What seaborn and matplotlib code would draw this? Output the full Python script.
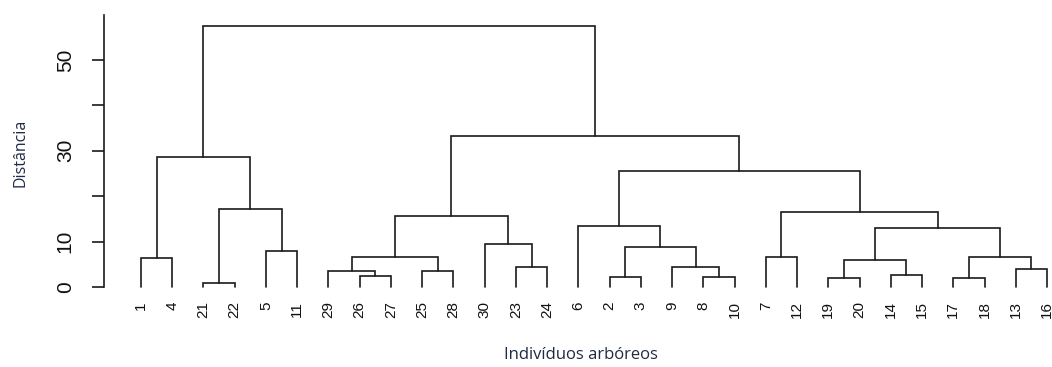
import matplotlib
matplotlib.use("Agg")
import matplotlib.pyplot as plt
import seaborn as sns

# Leaf order along the x axis (as drawn in the dendrogram)
leaves = ["1", "4", "21", "22", "5", "11", "29", "26", "27", "25", "28", "30", "23", "24",
          "6", "2", "3", "9", "8", "10", "7", "12", "19", "20", "14", "15", "17", "18", "13", "16"]

# Merges: left child, right child, fusion height (m<i> = i-th merge)
merge_left = ["21", "19", "17", "2", "8", "26", "14", "29", "25", "13", "23", "9", "m1", "1",
              "m7", "7", "m2", "5", "m3", "30", "m12", "6", "m14", "m15", "m0", "m21", "m13", "m22", "m26"]
merge_right = ["22", "20", "18", "3", "10", "27", "15", "m5", "28", "16", "24", "m4", "m6", "4",
               "m8", "12", "m9", "11", "m11", "m10", "m16", "m18", "m19", "m20", "m17", "m23", "m24", "m25", "m27"]
merge_height = [0.8, 1.9, 2.0, 2.2, 2.2, 2.5, 2.6, 3.5, 3.6, 3.9, 4.3, 4.3, 5.9, 6.3,
                6.5, 6.5, 6.5, 7.9, 8.9, 9.5, 12.9, 13.5, 15.6, 16.6, 17.2, 25.5, 28.6, 33.3, 57.5]

sns.set_style("white")
plt.rcParams["font.family"] = ["Liberation Sans", "DejaVu Sans"]

fig = plt.figure(figsize=(10.52, 3.67), dpi=100)
W, H = 1052, 367
ax = fig.add_axes([104 / W, 1 - 300 / H, (1052 - 104) / W, (300 - 10) / H])

xpos = {lab: i + 1 for i, lab in enumerate(leaves)}
ypos = {lab: 0.0 for lab in leaves}
for i, (l, r, h) in enumerate(zip(merge_left, merge_right, merge_height)):
    xl, xr = xpos[l], xpos[r]
    ax.plot([xl, xl, xr, xr], [ypos[l], h, h, ypos[r]], color="#1a1a1a", lw=1.2,
            solid_joinstyle="miter")
    xpos[f"m{i}"] = (xl + xr) / 2
    ypos[f"m{i}"] = h

px = 31.24  # pixels per leaf
ax.set_xlim(1 - 37 / px, 30 + 5 / px)
py = 4.54  # pixels per distance unit
ax.set_ylim(-13 / py, 277 / py)

ax.set_xticks(range(1, len(leaves) + 1))
ax.set_xticklabels(leaves, rotation=90, fontsize=11, color="#111111")
ax.tick_params(axis="x", length=0, pad=1)

ax.set_yticks([0, 10, 20, 30, 40, 50])
ax.set_yticklabels(["0", "10", "", "30", "", "50"], rotation=90, va="center",
                   fontsize=15, color="#111111")
ax.tick_params(axis="y", left=True, length=9, width=1.2, pad=12, color="#1a1a1a")

sns.despine(ax=ax, bottom=True)
ax.spines["left"].set_bounds(0, 60)
ax.spines["left"].set_linewidth(1.2)
ax.spines["left"].set_color("#1a1a1a")

fig.text(581 / W, 1 - 355 / H, "Indivíduos arbóreos", ha="center", va="center",
         fontsize=12, color="#1f2a44", family=["Open Sans", "DejaVu Sans"])
fig.text(20 / W, 1 - 153 / H, "Distância", ha="center", va="center", rotation=90,
         fontsize=11.5, color="#1f2a44", family=["Open Sans", "DejaVu Sans"])

fig.savefig("out.png", dpi=100)
